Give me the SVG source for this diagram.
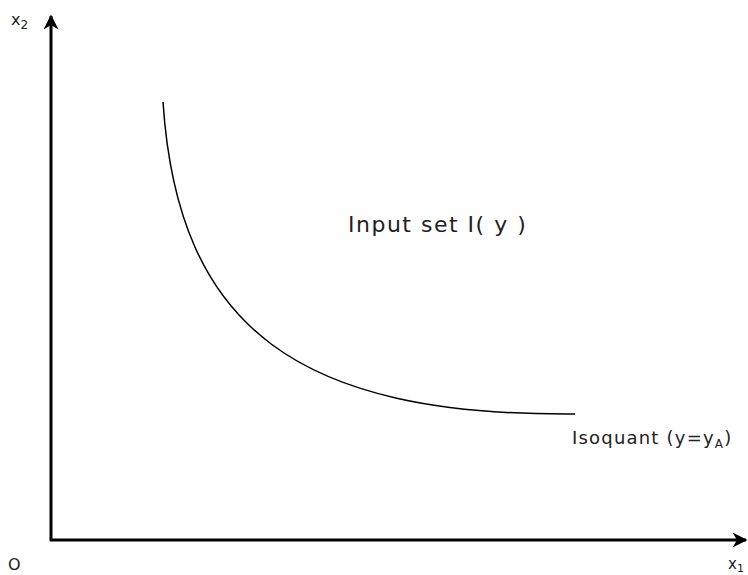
<svg xmlns="http://www.w3.org/2000/svg" width="748" height="575" viewBox="0 0 748 575">
<style>
.ax{stroke:#000;stroke-width:3;fill:none}
.t{font-family:"DejaVu Sans",sans-serif;fill:#222}
</style>
<defs>
<marker id="ah" viewBox="0 0 10 10" refX="9" refY="5" markerWidth="5" markerHeight="5" markerUnits="strokeWidth" orient="auto">
<path d="M0,0 L10,5 L0,10 L3,5 Z" fill="#000"/>
</marker>
</defs>
<rect width="748" height="575" fill="#fff"/>
<g id="connectors">
<line class="ax" x1="51" y1="541" x2="51" y2="16" marker-end="url(#ah)"/>
<line class="ax" x1="50" y1="540" x2="746" y2="540" marker-end="url(#ah)"/>
<path id="isoquant" d="M163,102 C178,330 300,416 575,414" fill="none" stroke="#000" stroke-width="1.5"/>
</g>
<g id="labels">
<text class="t" x="11" y="25" font-size="16">x<tspan font-size="12" dy="4">2</tspan></text>
<text class="t" x="8" y="570" font-size="16">O</text>
<text class="t" x="728" y="569" font-size="15">x<tspan font-size="11" dy="3">1</tspan></text>
<text class="t" x="348" y="232" font-size="22" letter-spacing="1.5">Input set I( y )</text>
<text class="t" x="572" y="444" font-size="18" letter-spacing="1.2">Isoquant (y=y<tspan font-size="12" dy="4">A</tspan><tspan dy="-4">)</tspan></text>
</g>
</svg>
